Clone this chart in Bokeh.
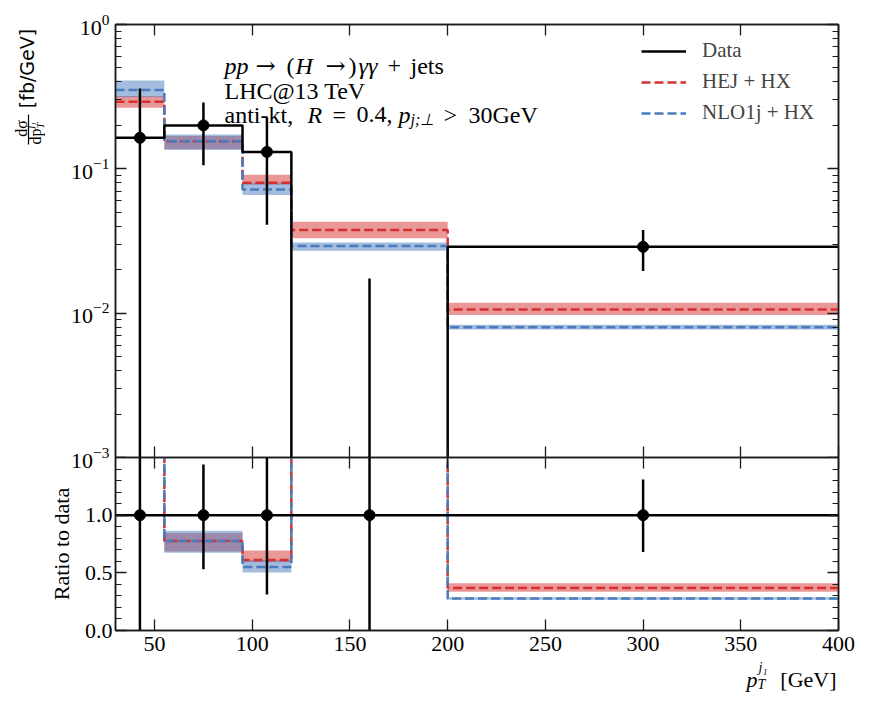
import math
from bokeh.plotting import figure
from bokeh.layouts import column, row
from bokeh.models import (Range1d, LinearAxis, LogAxis, FixedTicker, NumeralTickFormatter,
                          Label, Legend, LegendItem, BoxAnnotation)
from bokeh.embed import file_html
from bokeh.resources import INLINE

# ---------------- data ----------------
bin_edges = [30, 55, 95, 120, 200, 400]
data_x = [42.5, 75.0, 107.5, 160.0, 300.0]
data_val = [0.164, 0.200, 0.131, 0.0004, 0.0288]
data_err_up = [0.36, 0.288, 0.226, 0.0174, 0.0377]     # upper end of error bar
data_err_dn = [-0.05, 0.106, 0.041, -0.02, 0.0196]     # lower end of error bar

hej_val = [0.292, 0.155, 0.080, 0.0377, 0.0106]
hej_up = [0.320, 0.169, 0.091, 0.0430, 0.0118]
hej_dn = [0.265, 0.137, 0.0775, 0.0330, 0.0097]

nlo_val = [0.352, 0.155, 0.072, 0.0292, 0.0080]
nlo_up = [0.410, 0.173, 0.080, 0.0309, 0.0083]
nlo_dn = [0.313, 0.135, 0.066, 0.0271, 0.0077]

x_ticks = [50, 100, 150, 200, 250, 300, 350, 400]
log_major = [1e-3, 1e-2, 1e-1, 1.0]
log_minor = [m * d for d in (1e-3, 1e-2, 1e-1) for m in (2, 3, 4, 5, 6, 7, 8, 9)]
ratio_major = [0.0, 0.5, 1.0]
ratio_minor = [0.1, 0.2, 0.3, 0.4, 0.6, 0.7, 0.8, 0.9, 1.1, 1.2, 1.3, 1.4]

legend_labels = ["Data", "HEJ + HX", "NLO1j + HX"]

# ---------------- style / layout ----------------
FONT = "Liberation Serif"
ARROWFONT = "DejaVu Serif"
RED = "#d62f2f"
BLUE = "#4a7bbd"
INK = "#1a1a1a"
LW = 2.5
DASH = "9 4"

STRIP_W = 45                  # left strip holding the rotated y label
MAIN_W = 819                  # width of the panels
BL, BR = 64, 26               # left / right border of panels
TOP_BT, TOP_FH, TOP_BB = 24, 433, 14
RAT_FH, RAT_BB = 173, 34
OVERLAP = TOP_BB              # ratio panel slides under the top panel's bottom border
XS_H, XS_OVER = 56, 28        # x-label strip (transparent)
PAGE_H = 692

FRAME_L = STRIP_W + BL                    # 109
TOP_FB = TOP_BT + TOP_FH                  # 457
XS_SHIFT = 6                              # measured offset of the x-label strip frame


def style_axis(ax, show_labels, minor=True, standoff=6):
    ax.axis_line_color = INK
    ax.axis_line_width = 1.5
    ax.major_tick_in = 11
    ax.major_tick_out = 0
    ax.major_tick_line_color = INK
    ax.major_tick_line_width = 1.3
    if minor:
        ax.minor_tick_in = 6
        ax.minor_tick_out = 0
        ax.minor_tick_line_color = INK
        ax.minor_tick_line_width = 1.1
    else:
        ax.minor_tick_line_color = None
    ax.major_label_text_font = FONT
    if show_labels:
        ax.major_label_text_color = "black"
        ax.major_label_text_font_size = "22px"
        ax.major_label_standoff = standoff
    else:
        ax.major_label_text_color = None
        ax.major_label_text_font_size = "1px"
        ax.major_label_standoff = 0


def step_path(edges, vals):
    xs_, ys_ = [], []
    for i, v in enumerate(vals):
        xs_ += [edges[i], edges[i + 1]]
        ys_ += [v, v]
    return xs_, ys_


def put(fig, frame_left, frame_bottom, px, py, text, size, italic=False, font=FONT,
        align="left", baseline="alphabetic", angle=0.0):
    fig.add_layout(Label(x=px - frame_left, y=frame_bottom - py,
                         x_units="screen", y_units="screen", text=text,
                         text_font=font, text_font_size=f"{size}px",
                         text_font_style="italic" if italic else "normal",
                         text_align=align, text_baseline=baseline, angle=angle,
                         text_color="black"))


def blank(width, height):
    f = figure(width=width, height=height, x_range=Range1d(0, 1), y_range=Range1d(0, 1),
               output_backend="svg", toolbar_location=None, min_border=0,
               min_border_left=0, min_border_right=0, min_border_top=0,
               min_border_bottom=0)
    f.axis.visible = False
    f.grid.visible = False
    f.outline_line_color = None
    f.background_fill_alpha = 0.0
    f.border_fill_alpha = 0.0
    return f


# ---------------- top panel ----------------
p = figure(width=MAIN_W, height=TOP_BT + TOP_FH + TOP_BB,
           x_range=Range1d(30, 400), y_range=Range1d(1e-3, 1.0),
           y_axis_type="log", output_backend="svg", toolbar_location=None,
           min_border_left=BL, min_border_right=BR, min_border_top=TOP_BT,
           min_border_bottom=TOP_BB)
p.grid.visible = False
p.outline_line_color = INK
p.outline_line_width = 1.5

xax = p.xaxis[0]
xax.ticker = FixedTicker(ticks=x_ticks)
style_axis(xax, False, minor=False)
yax = p.yaxis[0]
yax.ticker = FixedTicker(ticks=log_major, minor_ticks=log_minor)
style_axis(yax, True, standoff=6)

ax_top = LinearAxis(ticker=FixedTicker(ticks=x_ticks))
style_axis(ax_top, False, minor=False)
p.add_layout(ax_top, "above")
ax_right = LogAxis(ticker=FixedTicker(ticks=log_major, minor_ticks=log_minor))
style_axis(ax_right, False)
p.add_layout(ax_right, "right")

p.quad(left=bin_edges[:-1], right=bin_edges[1:], bottom=hej_dn, top=hej_up,
       fill_color=RED, fill_alpha=0.5, line_color=None)
p.quad(left=bin_edges[:-1], right=bin_edges[1:], bottom=nlo_dn, top=nlo_up,
       fill_color=BLUE, fill_alpha=0.5, line_color=None)
hx, hy = step_path(bin_edges, hej_val)
r_hej = p.line(hx, hy, line_color=RED, line_width=LW, line_dash=DASH)
nx, ny = step_path(bin_edges, nlo_val)
r_nlo = p.line(nx, ny, line_color=BLUE, line_width=LW, line_dash=DASH)
dx, dy = step_path(bin_edges, data_val)
r_data = p.line(dx, dy, line_color="black", line_width=LW)
p.segment(x0=data_x, y0=[max(v, 1e-6) for v in data_err_dn],
          x1=data_x, y1=data_err_up, line_color="black", line_width=LW)
p.scatter(x=data_x, y=data_val, size=11, color="black")

legend = Legend(items=[LegendItem(label=legend_labels[0], renderers=[r_data]),
                       LegendItem(label=legend_labels[1], renderers=[r_hej]),
                       LegendItem(label=legend_labels[2], renderers=[r_nlo])],
                location=(526, 332), margin=0, padding=4, spacing=6,
                label_height=24, glyph_height=24, glyph_width=45,
                label_standoff=16, border_line_color=None,
                background_fill_alpha=0.0,
                label_text_font=FONT, label_text_font_size="21px")
p.add_layout(legend)

# annotation block (page coordinates)
TL, TB = FRAME_L, TOP_FB
for s, it, fnt, xpos in [("pp", True, FONT, 218), ("\u2192", False, ARROWFONT, 249),
                         ("(", False, FONT, 280), ("H", True, FONT, 289),
                         ("\u2192", False, ARROWFONT, 319), (")", False, FONT, 342),
                         ("\u03b3\u03b3", True, FONT, 352), ("+", False, FONT, 381),
                         ("jets", False, FONT, 404)]:
    put(p, TL, TB, xpos, 65, s, 24, italic=it, font=fnt)
put(p, TL, TB, 218, 90, "LHC@13 TeV", 24)
for s, it, xpos in [("anti-kt,", False, 218), ("R", True, 301), ("=", False, 326),
                    ("0.4,", False, 350), ("p", True, 392), (">", False, 437),
                    ("30GeV", False, 462)]:
    put(p, TL, TB, xpos, 114, s, 24, italic=it)
put(p, TL, TB, 404, 119, "j;\u22a5", 16, italic=True)

# ---------------- ratio panel ----------------
r = figure(width=MAIN_W, height=RAT_FH + RAT_BB,
           x_range=p.x_range, y_range=Range1d(0.0, 1.5),
           output_backend="svg", toolbar_location=None,
           min_border_left=BL, min_border_right=BR, min_border_top=0,
           min_border_bottom=RAT_BB)
r.grid.visible = False
r.outline_line_color = INK
r.outline_line_width = 1.5
r.border_fill_alpha = 0.0
r.styles = {"margin-top": f"-{OVERLAP}px"}

rx = r.xaxis[0]
rx.ticker = FixedTicker(ticks=x_ticks)
style_axis(rx, True, minor=False, standoff=6)
ry = r.yaxis[0]
ry.ticker = FixedTicker(ticks=ratio_major, minor_ticks=ratio_minor)
ry.formatter = NumeralTickFormatter(format="0.0")
style_axis(ry, True, standoff=3)
ry.axis_label = "Ratio to data"
ry.axis_label_text_font = FONT
ry.axis_label_text_font_size = "22px"
ry.axis_label_text_font_style = "normal"
ry.axis_label_text_color = "black"
ry.axis_label_standoff = 8
r_top = LinearAxis(ticker=FixedTicker(ticks=x_ticks))
style_axis(r_top, False, minor=False)
r.add_layout(r_top, "above")
r_right = LinearAxis(ticker=FixedTicker(ticks=ratio_major, minor_ticks=ratio_minor))
style_axis(r_right, False)
r.add_layout(r_right, "right")

hej_r = [a / d for a, d in zip(hej_val, data_val)]
hej_r_up = [a / d for a, d in zip(hej_up, data_val)]
hej_r_dn = [a / d for a, d in zip(hej_dn, data_val)]
nlo_r = [a / d for a, d in zip(nlo_val, data_val)]
nlo_r_up = [a / d for a, d in zip(nlo_up, data_val)]
nlo_r_dn = [a / d for a, d in zip(nlo_dn, data_val)]
data_r = [v / v for v in data_val]
data_r_up = [a / d for a, d in zip(data_err_up, data_val)]
data_r_dn = [a / d for a, d in zip(data_err_dn, data_val)]

r.quad(left=bin_edges[:-1], right=bin_edges[1:], bottom=hej_r_dn, top=hej_r_up,
       fill_color=RED, fill_alpha=0.5, line_color=None)
r.quad(left=bin_edges[:-1], right=bin_edges[1:], bottom=nlo_r_dn, top=nlo_r_up,
       fill_color=BLUE, fill_alpha=0.5, line_color=None)
x1, y1 = step_path(bin_edges, hej_r)
r.line(x1, y1, line_color=RED, line_width=LW, line_dash=DASH)
x2, y2 = step_path(bin_edges, nlo_r)
r.line(x2, y2, line_color=BLUE, line_width=LW, line_dash=DASH)
x3, y3 = step_path(bin_edges, data_r)
r.line(x3, y3, line_color="black", line_width=LW)
r.segment(x0=data_x, y0=data_r_dn, x1=data_x, y1=data_r_up,
          line_color="black", line_width=LW)
r.scatter(x=data_x, y=data_r, size=11, color="black")

# ---------------- x-label strip (transparent, overlaps ratio bottom border) ----------
xs = blank(MAIN_W, XS_H)
xs.styles = {"margin-top": f"-{XS_OVER}px"}
XL, XB = FRAME_L + XS_SHIFT, PAGE_H
put(xs, XL, XB, 746, 679, "p", 22, italic=True)
put(xs, XL, XB, 757, 684, "T", 14, italic=True)
put(xs, XL, XB, 758, 667, "j\u2081", 14, italic=True)
put(xs, XL, XB, 836, 679, "[GeV]", 22, align="right")

# ---------------- left strip with the rotated y label ----------------
ls = blank(STRIP_W, PAGE_H)
half_pi = math.pi / 2
put(ls, 0, PAGE_H, 26, 68, "[fb/GeV]", 19, font="DejaVu Sans", align="center",
    baseline="middle", angle=half_pi)
put(ls, 0, PAGE_H, 20.5, 128, "d\u03c3", 16, align="center", baseline="middle",
    angle=half_pi)
ls.add_layout(BoxAnnotation(left=27.4, right=28.6, top=PAGE_H - 114, bottom=PAGE_H - 144,
                            left_units="screen", right_units="screen",
                            top_units="screen", bottom_units="screen",
                            fill_color="black", fill_alpha=1.0, line_color=None))
put(ls, 0, PAGE_H, 35, 144, "dp", 16, align="left", baseline="middle", angle=half_pi)
put(ls, 0, PAGE_H, 39.5, 128, "T", 10, italic=True, align="left", baseline="middle",
    angle=half_pi)
put(ls, 0, PAGE_H, 30, 128, "j\u2081", 10, italic=True, align="left",
    baseline="middle", angle=half_pi)

layout = row(ls, column(p, r, xs, spacing=0), spacing=0)
open("out.html", "w").write(file_html(layout, INLINE))
